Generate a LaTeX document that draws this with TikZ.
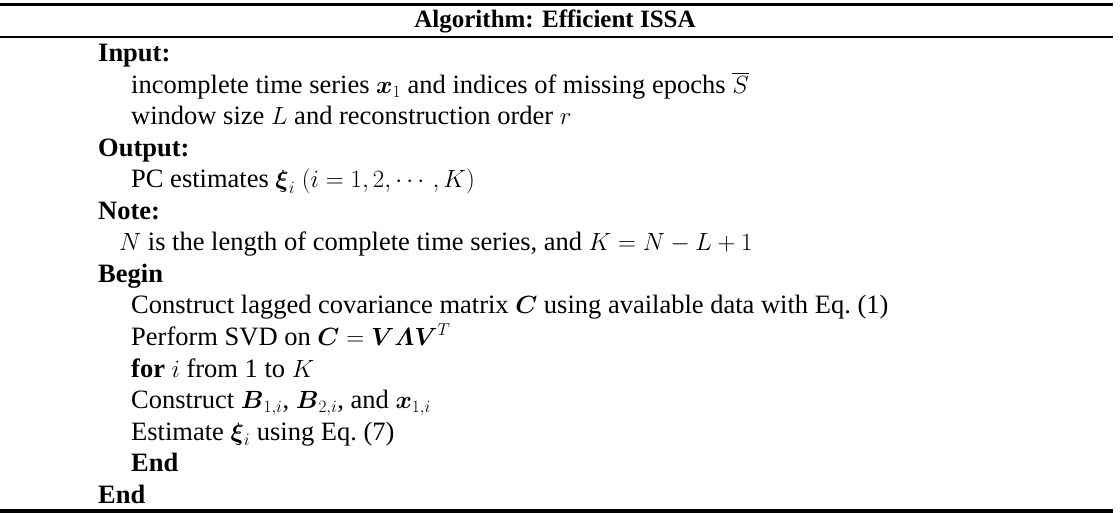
\documentclass[tikz,border=0pt]{standalone}
\usepackage{amsmath}
\usepackage{fontspec}
\setmainfont{Liberation Serif}
\tikzset{
  txt/.style={anchor=base west, inner sep=0pt, font=\fontsize{26.5}{30}\selectfont},
  hd/.style={txt, font=\fontsize{26.5}{30}\selectfont\bfseries},
  thickrule/.style={line width=3.5pt},
  thinrule/.style={line width=2pt}
}
\begin{document}
\begin{tikzpicture}[x=1pt,y=-1pt]
\useasboundingbox (0,0) rectangle (1120,513);
% table rules
\coordinate (tl) at (0,4.5);   \coordinate (tr) at (1113,4.5);
\coordinate (ml) at (0,37);    \coordinate (mr) at (1113,37);
\coordinate (bl) at (0,511);   \coordinate (br) at (1113,511);
\draw[thickrule] (tl) -- (tr);
\draw[thinrule] (ml) -- (mr);
\draw[thickrule] (bl) -- (br);
% heading
\node[hd, anchor=base, font=\fontsize{25}{30}\selectfont\bfseries] (title) at (555,28) {Algorithm: Efficient ISSA};
% body
\node[hd]  (input)  at (98,62)    {Input:};
\node[txt] (in1)    at (131,93.5) {incomplete time series $\boldsymbol{x}_1$ and indices of missing epochs $\overline{S}$};
\node[txt] (in2)    at (131,125)  {window size $L$ and reconstruction order $r$};
\node[hd]  (output) at (98,156.5) {Output:};
\node[txt] (out1)   at (131,188)  {PC estimates $\boldsymbol{\xi}_i$ $(i=1,2,\cdots,K)$};
\node[hd]  (note)   at (98,219.5) {Note:};
\node[txt] (note1)  at (119,251)  {$N$ is the length of complete time series, and $K=N-L+1$};
\node[hd]  (begin)  at (98,282.5) {Begin};
\node[txt] (s1)     at (131,314)  {Construct lagged covariance matrix $\boldsymbol{C}$ using available data with Eq.~(1)};
\node[txt] (s2)     at (131,345.5){Perform SVD on $\boldsymbol{C}=\boldsymbol{V\varLambda V}^T$};
\node[txt] (s3)     at (131,377)  {\textbf{for} $i$ from 1 to $K$};
\node[txt] (s4)     at (131,408.5){Construct $\boldsymbol{B}_{1,i}$, $\boldsymbol{B}_{2,i}$, and $\boldsymbol{x}_{1,i}$};
\node[txt] (s5)     at (131,440)  {Estimate $\boldsymbol{\xi}_i$ using Eq.~(7)};
\node[hd]  (end1)   at (131,471.5){End};
\node[hd]  (end2)   at (98,503)   {End};
\end{tikzpicture}
\end{document}
